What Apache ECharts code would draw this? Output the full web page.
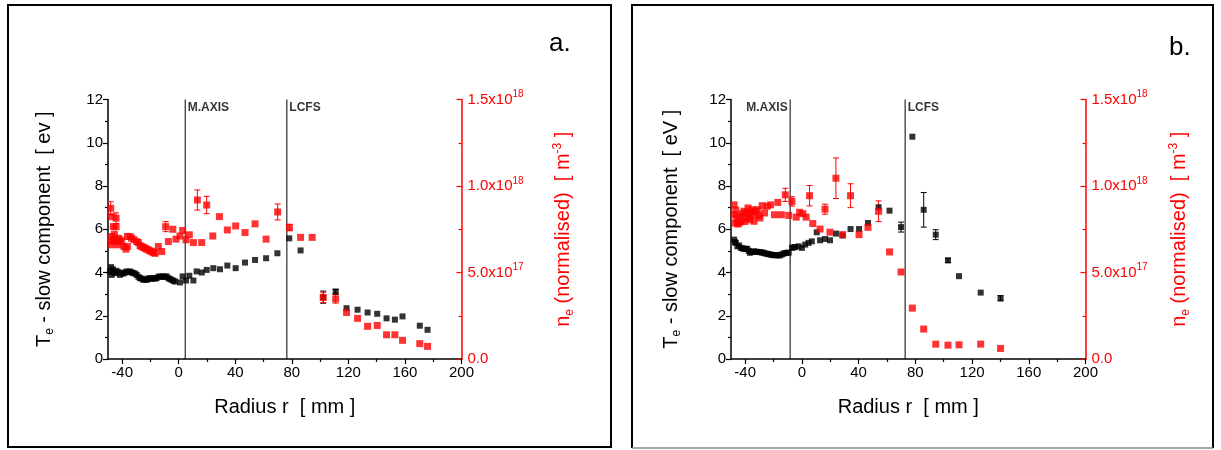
<!DOCTYPE html>
<html>
<head>
<meta charset="utf-8">
<script src="https://cdn.jsdelivr.net/npm/echarts@6/dist/echarts.min.js"></script>
<style>html,body{margin:0;padding:0;background:#fff}#c{width:1221px;height:450px}</style>
</head>
<body>
<div id="c"></div>
<script>
// ---------- DATA ----------
const xMajorTicks = [-40, 0, 40, 80, 120, 160, 200];
const xMinorTicks = [-20, 20, 60, 100, 140, 180];
const neTickLabels = {0: '0.0', 5: '5.0x10|17', 10: '1.0x10|18', 15: '1.5x10|18'};

// Panel a: vertical markers (mm)
const markersA = [{name: 'M.AXIS', r: 4.6}, {name: 'LCFS', r: 76.5}];
// Panel b
const markersB = [{name: 'M.AXIS', r: -8.3}, {name: 'LCFS', r: 72.8}];

// Panel a: Te slow component [eV]  [r(mm), Te]
const teA = [[-48.6,4.05],[-47.8,4.25],[-47.4,3.89],[-46.6,4.15],[-46.2,4.00],[-45.0,3.97],[-44.0,4.08],[-42.7,4.02],[-41.5,3.89],[-40.3,3.97],[-39.2,3.95],[-38.0,4.00],[-36.8,4.05],[-35.5,4.02],[-34.4,4.05],[-33.0,4.00],[-32.1,3.97],[-30.8,3.95],[-29.7,3.89],[-28.5,3.80],[-27.4,3.74],[-26.2,3.72],[-25.0,3.66],[-23.8,3.68],[-22.6,3.66],[-21.5,3.72],[-20.3,3.74],[-19.1,3.70],[-17.9,3.74],[-16.7,3.72],[-15.6,3.74],[-14.4,3.80],[-13.2,3.82],[-12.0,3.80],[-10.8,3.82],[-9.6,3.80],[-8.5,3.82],[-7.3,3.74],[-6.2,3.70],[-5.0,3.66],[-3.8,3.62],[-2.6,3.58],[0.9,3.54],[2.8,3.82],[5.2,3.63],[7.5,3.85],[10.4,3.63],[12.7,4.05],[16.3,4.00],[19.8,4.12],[24.5,4.20],[29.2,4.15],[34.4,4.32],[40.3,4.20],[46.9,4.46],[54.0,4.58],[61.8,4.66],[69.8,4.89],[78.2,5.58],[86.2,5.02],[102.2,2.86],[111.0,3.12],[118.7,2.35],[126.5,2.28],[133.6,2.15],[140.4,2.09],[147.0,1.88],[152.9,1.82],[158.3,1.97],[170.5,1.54],[176.0,1.35]];
const teErrA = [[102.2,2.86,0.28],[111.0,3.12,0.1]];

// Panel a: ne (normalised) in units of 1e17 m^-3  [r(mm), ne]
const neA = [[-48.1,8.71],[-48.1,6.79],[-47.4,8.23],[-47.4,7.08],[-47.4,6.60],[-46.2,7.65],[-46.2,6.89],[-45.5,7.20],[-44.3,8.14],[-44.3,7.65],[-44.3,6.79],[-42.7,6.98],[-42.7,6.60],[-41.5,6.89],[-40.3,6.79],[-38.7,6.50],[-37.3,6.35],[-36.3,7.08],[-36.3,6.50],[-34.4,7.08],[-33.3,6.98],[-31.6,6.89],[-29.7,6.79],[-28.5,6.73],[-27.3,6.55],[-26.2,6.50],[-25.0,6.45],[-23.8,6.40],[-22.6,6.35],[-21.5,6.31],[-20.3,6.25],[-19.1,6.21],[-17.9,6.15],[-16.7,6.11],[-14.4,6.50],[-12.0,6.21],[-9.2,7.65],[-7.3,6.79],[-4.2,7.50],[-1.9,6.93],[0.9,7.11],[2.8,7.43],[5.2,6.89],[7.5,7.18],[10.4,6.73],[13.2,9.19],[16.3,6.73],[19.8,8.90],[24.1,7.11],[28.8,8.23],[34.4,7.46],[40.3,7.69],[46.9,7.31],[54.0,7.81],[61.8,6.93],[70.0,8.50],[78.3,7.60],[86.2,7.03],[94.4,7.03],[102.2,3.56],[111.0,3.48],[118.7,2.69],[126.5,2.35],[133.6,1.89],[140.4,1.94],[147.0,1.40],[152.9,1.40],[158.3,1.08],[170.5,0.89],[176.0,0.73]];
const neErrA = [[-48.1,8.71,0.38],[-44.3,8.14,0.31],[-9.2,7.65,0.29],[13.2,9.19,0.58],[19.8,8.90,0.5],[70.0,8.50,0.46],[78.3,7.60,0.19],[102.2,3.56,0.3],[111.0,3.48,0.25]];

// Panel b: Te slow component [eV]
const teB = [[-47.8,5.52],[-47.2,5.40],[-46.6,5.37],[-45.5,5.21],[-44.3,5.25],[-43.1,5.14],[-42.0,5.12],[-40.8,5.09],[-39.6,5.10],[-38.5,5.09],[-37.5,5.00],[-36.6,4.91],[-35.2,4.95],[-33.8,4.98],[-32.6,4.96],[-31.5,4.95],[-30.3,4.95],[-29.1,4.94],[-28.0,4.92],[-26.8,4.91],[-25.6,4.88],[-24.5,4.86],[-23.3,4.85],[-22.1,4.83],[-21.0,4.81],[-19.8,4.80],[-18.6,4.80],[-17.5,4.80],[-16.3,4.79],[-15.2,4.80],[-14.0,4.84],[-12.8,4.88],[-11.6,4.90],[-10.5,4.91],[-9.3,4.92],[-7.0,5.14],[-5.8,5.16],[-4.7,5.18],[-2.3,5.21],[0.0,5.14],[2.3,5.29],[4.7,5.37],[7.0,5.44],[10.5,5.86],[12.8,5.49],[16.3,5.55],[19.8,5.49],[24.0,5.80],[28.7,5.71],[34.3,6.01],[40.3,6.01],[46.6,6.29],[54.1,7.02],[61.8,6.86],[69.9,6.10],[77.9,10.28],[85.9,6.90],[94.4,5.75],[103.0,4.56],[110.8,3.83],[126.1,3.07],[140.1,2.81]];
const teErrB = [[69.9,6.10,0.23],[85.9,6.90,0.8],[94.4,5.75,0.23],[103.0,4.56,0.1],[140.1,2.81,0.12]];

// Panel b: ne (normalised) in units of 1e17 m^-3
const neB = [[-47.8,8.91],[-47.8,8.34],[-47.3,7.86],[-46.6,8.60],[-45.9,8.15],[-45.2,7.80],[-44.3,7.86],[-43.6,8.25],[-42.7,7.96],[-41.8,8.40],[-40.8,8.54],[-40.2,7.95],[-39.6,8.15],[-38.8,8.45],[-38.0,8.73],[-37.2,8.20],[-36.6,8.05],[-35.8,8.50],[-35.0,8.63],[-34.3,8.35],[-33.8,7.96],[-32.6,8.54],[-31.5,8.63],[-30.5,8.30],[-29.6,8.15],[-28.0,8.86],[-26.3,8.44],[-24.5,8.83],[-22.1,8.91],[-19.3,8.34],[-17.0,9.05],[-14.5,8.34],[-11.7,9.49],[-9.3,8.30],[-7.0,9.11],[-4.0,8.20],[-1.6,8.48],[0.7,8.40],[3.0,8.20],[5.4,9.44],[7.7,7.83],[12.8,7.51],[16.3,8.66],[19.8,7.33],[24.0,10.45],[28.7,7.19],[34.3,9.44],[40.3,7.19],[46.6,7.61],[54.1,8.54],[61.8,6.19],[69.9,5.03],[77.9,2.94],[85.9,1.73],[94.4,0.86],[103.0,0.80],[110.8,0.82],[126.1,0.86],[140.1,0.61]];
const neErrB = [[-11.7,9.49,0.38],[-7.0,9.11,0.27],[5.4,9.44,0.59],[16.3,8.66,0.29],[24.0,10.45,1.17],[34.3,9.44,0.69],[54.1,8.54,0.6]];

// ---------- CHART ----------
const FONT = '"Liberation Sans", Arial, Helvetica, sans-serif';
const RED = '#ff0000';
const chart = echarts.init(document.getElementById('c'), null, {renderer: 'canvas'});

function xAxesFor(g) {
  return [
    {
      type: 'value', gridIndex: g, min: -50, max: 200, position: 'bottom',
      axisLine: {show: true, onZero: false, lineStyle: {color: '#000', width: 1.5}},
      axisTick: {show: true, inside: false, length: 5, customValues: xMajorTicks, lineStyle: {color: '#000', width: 1.2}},
      axisLabel: {show: true, customValues: xMajorTicks, color: '#000', fontSize: 15, fontFamily: FONT, margin: 6},
      splitLine: {show: false},
      name: 'Radius r  [ mm ]', nameLocation: 'middle', nameGap: 38,
      nameTextStyle: {fontSize: 20, color: '#000', fontFamily: FONT}
    },
    {
      type: 'value', gridIndex: g, min: -50, max: 200, position: 'bottom',
      axisLine: {show: false, onZero: false},
      axisTick: {show: true, inside: false, length: 3, customValues: xMinorTicks, lineStyle: {color: '#000', width: 1.2}},
      axisLabel: {show: false, customValues: xMinorTicks},
      splitLine: {show: false}
    }
  ];
}

function yAxesFor(g, unit, gapL, gapR) {
  return [
    {
      type: 'value', gridIndex: g, min: 0, max: 12, interval: 2, position: 'left',
      axisLine: {show: true, onZero: false, lineStyle: {color: '#000', width: 1.5}},
      axisTick: {show: true, inside: false, length: 5, lineStyle: {color: '#000', width: 1.2}},
      minorTick: {show: true, splitNumber: 2, length: 3, lineStyle: {color: '#000', width: 1.2}},
      axisLabel: {color: '#000', fontSize: 15, fontFamily: FONT, margin: 5},
      splitLine: {show: false}, minorSplitLine: {show: false},
      name: 'T{sub|e} - slow component  [ ' + unit + ' ]',
      nameLocation: 'middle', nameRotate: 90, nameGap: gapL,
      nameTextStyle: {fontSize: 20, color: '#000', fontFamily: FONT, lineHeight: 24,
        rich: {sub: {fontSize: 12, color: '#000', fontFamily: FONT, verticalAlign: 'bottom', lineHeight: 12}}}
    },
    {
      type: 'value', gridIndex: g, min: 0, max: 15, interval: 5, position: 'right',
      axisLine: {show: true, onZero: false, lineStyle: {color: RED, width: 1.5}},
      axisTick: {show: true, inside: true, length: 5, lineStyle: {color: RED, width: 1.2}},
      minorTick: {show: true, splitNumber: 2, length: 3, lineStyle: {color: RED, width: 1.2}},
      axisLabel: {
        color: RED, fontSize: 15, fontFamily: FONT, margin: 6,
        formatter: function (v) {
          const t = neTickLabels[v];
          if (t === undefined) return '';
          if (t.indexOf('|') < 0) return t;
          const p = t.split('|');
          return '{a|' + p[0] + '}{s|' + p[1] + '}';
        },
        rich: {
          a: {fontSize: 15, color: RED, fontFamily: FONT, lineHeight: 20},
          s: {fontSize: 10, color: RED, fontFamily: FONT, verticalAlign: 'top', lineHeight: 10}
        }
      },
      splitLine: {show: false}, minorSplitLine: {show: false},
      name: 'n{sub|e} (normalised)  [ m{sup|-3} ]',
      nameLocation: 'middle', nameRotate: 90, nameGap: gapR,
      nameTextStyle: {fontSize: 20, color: RED, fontFamily: FONT, lineHeight: 24,
        rich: {
          sub: {fontSize: 12, color: RED, fontFamily: FONT, verticalAlign: 'bottom', lineHeight: 12},
          sup: {fontSize: 12, color: RED, fontFamily: FONT, verticalAlign: 'top', lineHeight: 12}
        }}
    }
  ];
}

function errSeries(data, xi, yi, color) {
  return {
    type: 'custom', xAxisIndex: xi, yAxisIndex: yi, data: data, silent: true, z: 3,
    encode: {x: 0, y: 1},
    renderItem: function (params, api) {
      const x = api.value(0), y = api.value(1), e = api.value(2);
      const top = api.coord([x, y + e]);
      const bot = api.coord([x, y - e]);
      const w = 3;
      const st = {stroke: color, lineWidth: 1};
      return {type: 'group', children: [
        {type: 'line', shape: {x1: top[0], y1: top[1], x2: bot[0], y2: bot[1]}, style: st},
        {type: 'line', shape: {x1: top[0] - w, y1: top[1], x2: top[0] + w, y2: top[1]}, style: st},
        {type: 'line', shape: {x1: bot[0] - w, y1: bot[1], x2: bot[0] + w, y2: bot[1]}, style: st}
      ]};
    }
  };
}

function markerSeries(markers, xi, yi, sides) {
  const out = [];
  markers.forEach(function (m, i) {
    out.push({
      type: 'line', xAxisIndex: xi, yAxisIndex: yi, data: [[m.r, 0], [m.r, 12]],
      symbol: 'none', silent: true, lineStyle: {color: '#000', width: 1}, z: 1
    });
    out.push({
      type: 'scatter', xAxisIndex: xi, yAxisIndex: yi, silent: true, symbol: 'rect', symbolSize: 1,
      itemStyle: {color: 'rgba(0,0,0,0)'}, z: 4,
      data: [{value: [m.r, 11.6], name: m.name}],
      label: {show: true, position: sides[i], distance: 2, formatter: '{b}', color: '#000',
        fontSize: 12, fontWeight: 'bold', fontFamily: FONT}
    });
  });
  return out;
}

function dataSeries(data, xi, yi, color, size) {
  return {type: 'scatter', xAxisIndex: xi, yAxisIndex: yi, data: data, symbol: 'rect',
    symbolSize: size, itemStyle: {color: color}, silent: true, z: 5};
}

const series = [].concat(
  markerSeries(markersA, 0, 0, ['right', 'right']),
  markerSeries(markersB, 2, 2, ['left', 'right']),
  [
    errSeries(teErrA, 0, 0, '#000'),
    dataSeries(teA, 0, 0, '#000', 6),
    errSeries(neErrA, 0, 1, RED),
    dataSeries(neA, 0, 1, RED, 7),
    errSeries(teErrB, 2, 2, '#000'),
    dataSeries(teB, 2, 2, '#000', 6),
    errSeries(neErrB, 2, 3, RED),
    dataSeries(neB, 2, 3, RED, 7)
  ]
);

const option = {
  animation: false,
  backgroundColor: '#fff',
  grid: [
    {left: 108, right: 759.5, top: 99.5, bottom: 91},
    {left: 731, right: 135.5, top: 99.5, bottom: 91}
  ],
  xAxis: [].concat(xAxesFor(0), xAxesFor(1)),
  yAxis: [].concat(yAxesFor(0, 'ev', 52, 90), yAxesFor(1, 'eV', 48, 82)),
  series: series,
  graphic: [
    {type: 'rect', shape: {x: 8, y: 5, width: 603, height: 442}, style: {fill: 'none', stroke: '#000', lineWidth: 2}, silent: true},
    {type: 'polyline', shape: {points: [[632, 448], [632, 5], [1213, 5], [1213, 448]]}, style: {fill: 'none', stroke: '#000', lineWidth: 2}, silent: true},
    {type: 'line', shape: {x1: 632, y1: 448, x2: 1213, y2: 448}, style: {stroke: '#888', lineWidth: 1.5}, silent: true},
    {type: 'text', x: 549, y: 44, style: {text: 'a.', font: '26px ' + FONT, fill: '#000', verticalAlign: 'middle', align: 'left'}, silent: true},
    {type: 'text', x: 1169, y: 48, style: {text: 'b.', font: '26px ' + FONT, fill: '#000', verticalAlign: 'middle', align: 'left'}, silent: true}
  ]
};
chart.setOption(option);
</script>
</body>
</html>
